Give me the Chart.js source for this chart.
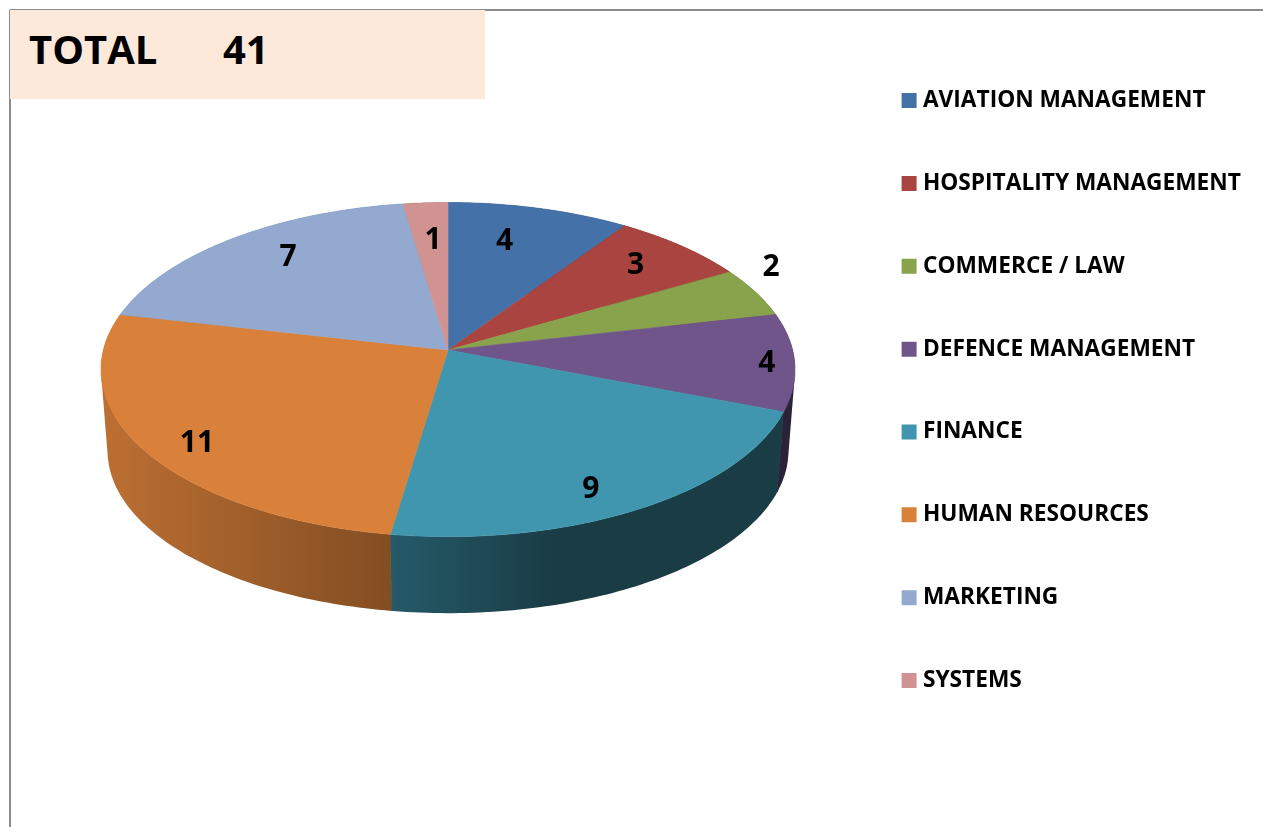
<!DOCTYPE html>
<html>
<head>
<meta charset="utf-8">
<script src="https://cdn.jsdelivr.net/npm/chart.js@4/dist/chart.umd.min.js"></script>
<style>
html,body{margin:0;padding:0;background:#fff;width:1263px;height:827px;overflow:hidden}
#wrap{position:relative;width:1263px;height:827px}
canvas{position:absolute;left:0;top:0}
.line{position:absolute;background:#8c8c8c}
#box{position:absolute;left:10px;top:10px;width:475px;height:89px;background:#FDE9DA}
.tot{position:absolute;font:bold 40px "Open Sans",sans-serif;color:#000;line-height:48px;top:25px}
</style>
</head>
<body>
<div id="wrap">
<canvas id="c" width="1263" height="827"></canvas>
<div class="line" style="left:9px;top:10px;width:2px;height:817px"></div>
<div class="line" style="left:10px;top:9px;width:1253px;height:2px"></div>
<div id="box"></div>
<div class="tot" style="left:29px">TOTAL</div>
<div class="tot" style="left:223px">41</div>
</div>
<script>
const categories = ['AVIATION MANAGEMENT','HOSPITALITY MANAGEMENT','COMMERCE / LAW','DEFENCE MANAGEMENT','FINANCE','HUMAN RESOURCES','MARKETING','SYSTEMS'];
const values = [4,3,2,4,9,11,7,1];
const colors = ['#4472A8','#A94441','#89A34C','#70558A','#3F96AE','#D9803A','#93A9CF','#D09392'];

// Geometry of the tilted disc, relative to the radius the library gives
const tilt = 0.12, squash = 0.478;
const depthScaleX = 0.981, depthScaleY = 0.464, depthDrop = 82;
// Perspective correction: library angle -> visual angle on the tilted disc (degrees)
const angleFrom = [0,35.1,61.5,79,114.1,193.2,289.8,351.2,360];
const angleTo   = [0,34.3,60.1,77.4,111.2,188.5,282.6,351.6,360];
// Label placement: radial fraction and angular shift from the slice centre
const labelRadial = [0.741,0.80,1.133,0.92,0.855,0.864,0.784,0.728];
const labelShift  = [-3.6,-1.8,-8.5,-1.7,0.2,-9.3,0.1,0.7];
// Side wall shading along x (fraction of pie width, brightness)
const shadeAt = [0,0.41,0.655,1];
const shadeVal = [0.87,0.61,0.40,0.40];
const legendFontSize = 22.7, legendRowGap = 60.15;

function warp(d){
  for(let i=1;i<angleFrom.length;i++){
    if(d<=angleFrom[i]){
      const t=(d-angleFrom[i-1])/(angleFrom[i]-angleFrom[i-1]);
      return angleTo[i-1]+t*(angleTo[i]-angleTo[i-1]);
    }
  }
  return d;
}
function rim(arc,deg,r,isBottom){
  const a=deg*Math.PI/180, x=Math.sin(a)*r, y=-Math.cos(a)*r, w=1-tilt*y;
  const R=arc.outerRadius;
  if(isBottom) return [arc.x+R*depthScaleX*x/w, arc.y+depthDrop+R*depthScaleY*y/w];
  return [arc.x+R*x/w, arc.y+R*squash*y/w];
}
function toDeg(rad){return (rad+Math.PI/2)*180/Math.PI;}
function shade(hex,f){
  const n=parseInt(hex.slice(1),16);
  return `rgb(${((n>>16)&255)*f|0},${((n>>8)&255)*f|0},${(n&255)*f|0})`;
}

// Top face of each slice, drawn from the arc element's own angles and radius
Chart.ArcElement.prototype.draw=function(ctx){
  const a0=warp(toDeg(this.startAngle)), a1=warp(toDeg(this.endAngle));
  ctx.save();
  ctx.fillStyle=this.options.backgroundColor;
  ctx.strokeStyle=this.options.backgroundColor;
  ctx.lineWidth=0.6;
  ctx.beginPath();
  ctx.moveTo(this.x,this.y+0.5);
  for(let d=a0;d<a1;d+=0.5){const p=rim(this,d,1,false);ctx.lineTo(p[0],p[1]);}
  const e=rim(this,a1,1,false);ctx.lineTo(e[0],e[1]);
  ctx.closePath();ctx.fill();ctx.stroke();
  ctx.restore();
};

const walls={id:'walls',
  beforeDatasetsDraw(chart){
    const ctx=chart.ctx, meta=chart.getDatasetMeta(0);
    meta.data.forEach((arc,i)=>{
      const a0=warp(toDeg(arc.startAngle)), a1=warp(toDeg(arc.endAngle));
      const R=arc.outerRadius;
      const g=ctx.createLinearGradient(arc.x-R,0,arc.x+R,0);
      shadeAt.forEach((s,j)=>g.addColorStop(s,shade(colors[i],shadeVal[j])));
      ctx.save();
      ctx.fillStyle=g;ctx.strokeStyle=g;ctx.lineWidth=1;
      ctx.beginPath();
      for(let d=a0;d<a1;d+=1){
        const n=Math.min(d+1,a1);
        let Q=[rim(arc,d,1,false),rim(arc,n,1,false),rim(arc,n,1,true),rim(arc,d,1,true)];
        let area=0;
        for(let k=0;k<4;k++){const P=Q[k],S=Q[(k+1)%4];area+=P[0]*S[1]-S[0]*P[1];}
        if(area<0)Q.reverse();
        ctx.moveTo(Q[0][0],Q[0][1]);
        for(let k=1;k<4;k++)ctx.lineTo(Q[k][0],Q[k][1]);
        ctx.closePath();
      }
      ctx.fill('nonzero');
      const T=rim(arc,a1,1,false),U=rim(arc,a1,1,true);
      ctx.beginPath();ctx.moveTo(T[0],T[1]);ctx.lineTo(U[0],U[1]);ctx.stroke();
      ctx.restore();
    });
  },
  afterDatasetsDraw(chart){
    const ctx=chart.ctx, meta=chart.getDatasetMeta(0);
    ctx.save();
    ctx.font='bold 30px "Open Sans", sans-serif';
    ctx.fillStyle='#000';ctx.textAlign='center';ctx.textBaseline='middle';
    meta.data.forEach((arc,i)=>{
      const mid=(toDeg(arc.startAngle)+toDeg(arc.endAngle))/2+labelShift[i];
      const p=rim(arc,mid,labelRadial[i],false);
      ctx.fillText(String(values[i]),p[0],p[1]+1);
    });
    ctx.restore();
  },
  afterLayout(chart){
    const L=chart.legend;
    L.left=906.6-legendRowGap; L.right=1263;
    L.top=100.6-legendFontSize/2-legendRowGap; L.bottom=827;
  }
};

const baseLabels=Chart.overrides.doughnut.plugins.legend.labels.generateLabels;
new Chart(document.getElementById('c'),{
  type:'pie',
  data:{labels:categories,datasets:[{data:values,backgroundColor:colors,borderWidth:0,hoverOffset:0}]},
  plugins:[walls],
  options:{
    responsive:false,animation:false,
    layout:{padding:{top:5,bottom:133,left:0,right:0}},
    plugins:{
      tooltip:{enabled:false},
      legend:{
        position:'right',align:'start',maxWidth:367,maxHeight:827,
        labels:{
          color:'#000',boxWidth:5,boxHeight:5,padding:legendRowGap,
          font:{family:'"Open Sans", sans-serif',size:legendFontSize,weight:'bold'},
          generateLabels(chart){
            return baseLabels(chart).map(l=>Object.assign(l,{lineWidth:10,strokeStyle:l.fillStyle,lineJoin:'miter'}));
          }
        }
      }
    }
  }
});
</script>
</body>
</html>
